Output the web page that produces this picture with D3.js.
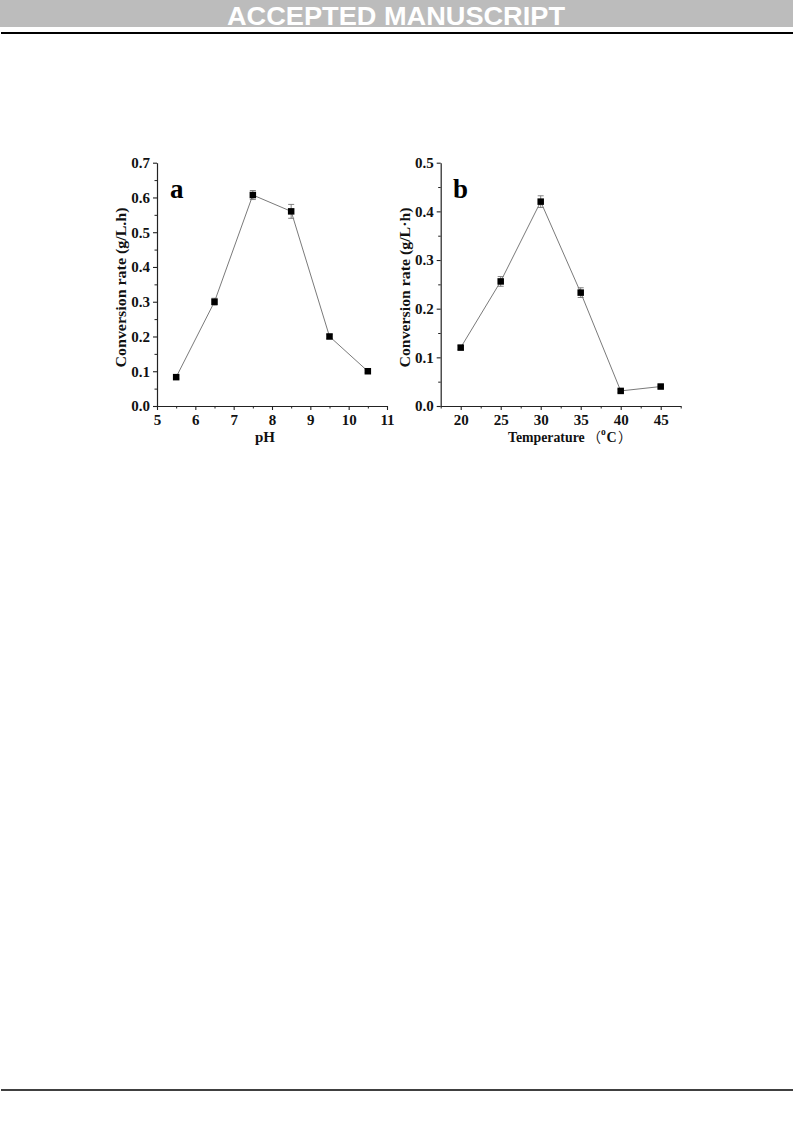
<!DOCTYPE html>
<html>
<head>
<meta charset="utf-8">
<script src="https://cdn.jsdelivr.net/npm/d3@7/dist/d3.min.js"></script>
<style>
  html, body { margin: 0; padding: 0; background: #fff; }
  svg { display: block; }
</style>
</head>
<body>
<svg id="page" width="793" height="1123"></svg>
<script>
// ---- Data ----
const phValues = [5.5, 6.5, 7.5, 8.5, 9.5, 10.5];
const phRates  = [0.083, 0.300, 0.607, 0.560, 0.200, 0.100];
const phErrors = [0.004, 0.010, 0.013, 0.020, 0.006, 0.004];

const tempValues = [20, 25, 30, 35, 40, 45];
const tempRates  = [0.120, 0.256, 0.420, 0.233, 0.031, 0.040];
const tempErrors = [0.004, 0.010, 0.012, 0.010, 0.003, 0.003];

const phTicks = [5, 6, 7, 8, 9, 10, 11];
const phMinor = [5.5, 6.5, 7.5, 8.5, 9.5, 10.5];
const phYTicks = [0, 0.1, 0.2, 0.3, 0.4, 0.5, 0.6, 0.7];
const phYMinor = [0.05, 0.15, 0.25, 0.35, 0.45, 0.55, 0.65];

const tempTicks = [20, 25, 30, 35, 40, 45];
const tempMinor = [17.5, 22.5, 27.5, 32.5, 37.5, 42.5, 47.5];
const tempYTicks = [0, 0.1, 0.2, 0.3, 0.4, 0.5];
const tempYMinor = [0.05, 0.15, 0.25, 0.35, 0.45];

const svg = d3.select("#page");
const serif = "'Liberation Serif', 'Times New Roman', 'DejaVu Serif', serif";
const cjk = "'Noto Sans CJK SC', 'Noto Sans CJK JP', sans-serif";

// ---- Page header/footer ----
svg.append("rect").attr("x", 0).attr("y", 0).attr("width", 793).attr("height", 27).attr("fill", "#bcbcbc");
svg.append("text").attr("x", 396).attr("y", 24.5)
  .attr("text-anchor", "middle")
  .attr("font-family", "'Liberation Sans Narrow', 'Liberation Sans', Arial, sans-serif")
  .attr("font-weight", "bold").attr("font-size", 26)
  .attr("fill", "#ffffff")
  .attr("textLength", 338).attr("lengthAdjust", "spacingAndGlyphs")
  .text("ACCEPTED MANUSCRIPT");
svg.append("line").attr("x1", 1).attr("x2", 793).attr("y1", 33).attr("y2", 33)
  .attr("stroke", "#000").attr("stroke-width", 2);
svg.append("line").attr("x1", 1).attr("x2", 793).attr("y1", 1090).attr("y2", 1090)
  .attr("stroke", "#000").attr("stroke-width", 1.6);

// ---- Panel builder ----
function panel(cfg) {
  const g = svg.append("g");
  const x = d3.scaleLinear().domain(cfg.xDomain).range(cfg.xRange);
  const y = d3.scaleLinear().domain(cfg.yDomain).range([406, 162.7]);

  const axisColor = "#222";
  // minor ticks
  g.append("g").attr("transform", `translate(0,${y(0)})`)
    .call(d3.axisBottom(x).tickValues(cfg.xMinor).tickSize(2.5).tickFormat("").tickSizeOuter(0))
    .call(s => s.select(".domain").remove())
    .call(s => s.selectAll("line").attr("stroke", axisColor));
  g.append("g").attr("transform", `translate(${cfg.xRange[0]},0)`)
    .call(d3.axisLeft(y).tickValues(cfg.yMinor).tickSize(2.5).tickFormat("").tickSizeOuter(0))
    .call(s => s.select(".domain").remove())
    .call(s => s.selectAll("line").attr("stroke", axisColor));

  // major axes
  const xa = g.append("g").attr("transform", `translate(0,${y(0)})`)
    .call(d3.axisBottom(x).tickValues(cfg.xTicks).tickSize(4).tickPadding(4).tickSizeOuter(0)
      .tickFormat(d3.format("d")));
  const ya = g.append("g").attr("transform", `translate(${cfg.xRange[0]},0)`)
    .call(d3.axisLeft(y).tickValues(cfg.yTicks).tickSize(4).tickPadding(3).tickSizeOuter(0)
      .tickFormat(d3.format(".1f")));
  [xa, ya].forEach(a => {
    a.select(".domain").attr("stroke", axisColor).attr("stroke-width", 1.2);
    a.selectAll(".tick line").attr("stroke", axisColor).attr("stroke-width", 1.1);
    a.selectAll("text").attr("font-family", serif).attr("font-weight", "bold")
      .attr("font-size", 15).attr("fill", "#111");
  });

  // connecting line
  const pts = cfg.xs.map((v, i) => [v, cfg.ys[i], cfg.es[i]]);
  g.append("path").datum(pts)
    .attr("fill", "none").attr("stroke", "#7a7a7a").attr("stroke-width", 1)
    .attr("d", d3.line().x(d => x(d[0])).y(d => y(d[1])));

  // error bars
  const eb = g.append("g").attr("stroke", "#777").attr("stroke-width", 0.9);
  pts.forEach(d => {
    const cx = x(d[0]);
    eb.append("line").attr("x1", cx).attr("x2", cx).attr("y1", y(d[1] - d[2])).attr("y2", y(d[1] + d[2]));
    eb.append("line").attr("x1", cx - 3).attr("x2", cx + 3).attr("y1", y(d[1] + d[2])).attr("y2", y(d[1] + d[2]));
    eb.append("line").attr("x1", cx - 3).attr("x2", cx + 3).attr("y1", y(d[1] - d[2])).attr("y2", y(d[1] - d[2]));
  });

  // markers
  const s = 6.5;
  g.selectAll("rect.m").data(pts).enter().append("rect")
    .attr("x", d => x(d[0]) - s / 2).attr("y", d => y(d[1]) - s / 2)
    .attr("width", s).attr("height", s).attr("fill", "#000");

  // y title
  g.append("text")
    .attr("transform", `translate(${cfg.yTitleX},287.5) rotate(-90)`)
    .attr("text-anchor", "middle")
    .attr("font-family", serif).attr("font-weight", "bold").attr("font-size", 15)
    .attr("textLength", 160).attr("lengthAdjust", "spacingAndGlyphs")
    .attr("fill", "#111")
    .text(cfg.yTitle);

  // x title
  cfg.xTitle(g);

  // panel letter
  g.append("text").attr("x", cfg.letterX).attr("y", 197.5)
    .attr("font-family", serif).attr("font-weight", "bold").attr("font-size", 27)
    .attr("fill", "#000").text(cfg.letter);
}

function label(g, x, y, txt, size, family, weight, anchor) {
  return g.append("text").attr("x", x).attr("y", y)
    .attr("text-anchor", anchor || "start")
    .attr("font-family", family).attr("font-weight", weight).attr("font-size", size)
    .attr("fill", "#111").text(txt);
}

panel({
  xDomain: [5, 11], xRange: [157, 387], yDomain: [0, 0.7],
  xTicks: phTicks, xMinor: phMinor, yTicks: phYTicks, yMinor: phYMinor,
  xs: phValues, ys: phRates, es: phErrors,
  yTitle: "Conversion rate (g/L.h)", yTitleX: 126,
  xTitle: g => label(g, 265, 441.5, "pH", 15, serif, "bold", "middle"),
  letter: "a", letterX: 170
});

panel({
  xDomain: [17.5, 47.5], xRange: [440.7, 680.7], yDomain: [0, 0.5],
  xTicks: tempTicks, xMinor: tempMinor, yTicks: tempYTicks, yMinor: tempYMinor,
  xs: tempValues, ys: tempRates, es: tempErrors,
  yTitle: "Conversion rate (g/L·h)", yTitleX: 410,
  xTitle: g => {
    label(g, 508, 441.5, "Temperature", 13.8, serif, "bold");
    label(g, 587, 441.5, "（", 14, cjk, "normal");
    label(g, 601, 435, "o", 9.5, serif, "bold");
    label(g, 606.5, 441.5, "C", 14, serif, "bold");
    label(g, 618, 441.5, "）", 14, cjk, "normal");
  },
  letter: "b", letterX: 453
});
</script>
</body>
</html>
